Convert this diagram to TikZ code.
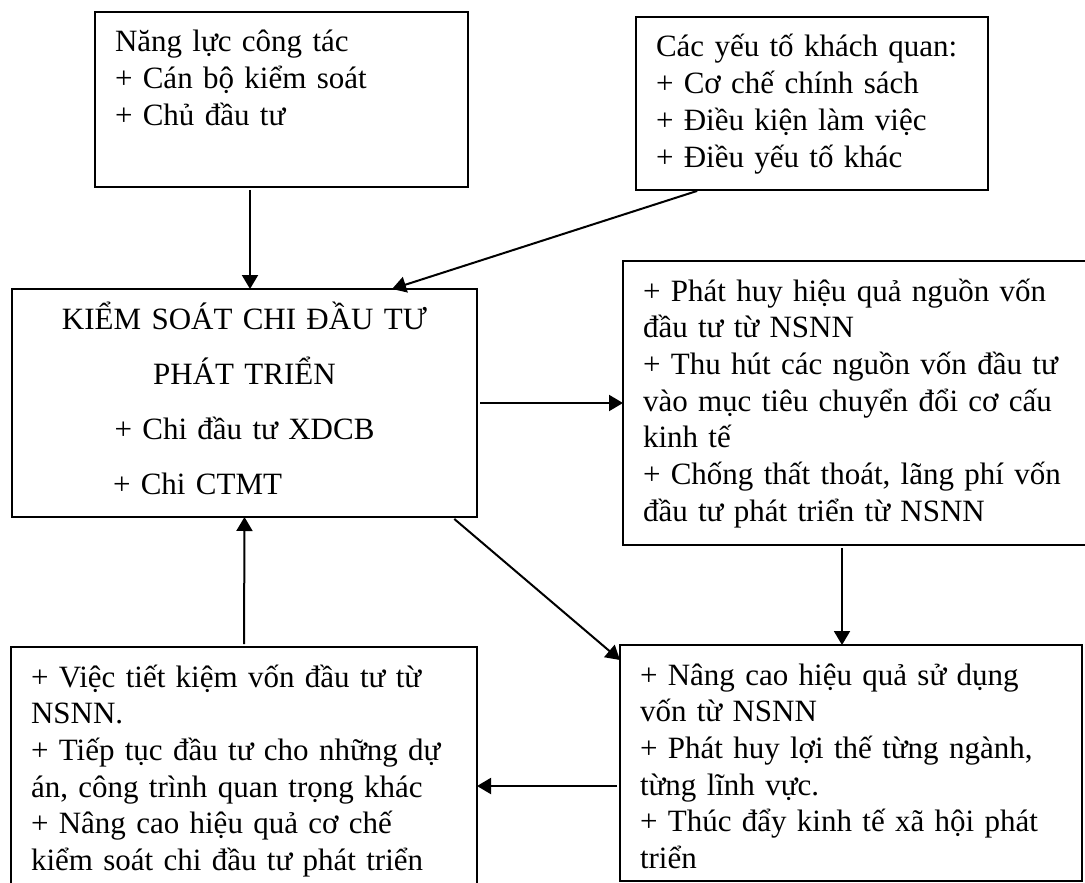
\documentclass[tikz,border=0pt]{standalone}
\usepackage{fontspec}
\setmainfont{Liberation Serif}
\usetikzlibrary{arrows.meta}
\usetikzlibrary{calc}

\begin{document}
\begin{tikzpicture}[x=0.5pt,y=-0.5pt]
	\tikzstyle{box}=[draw, line width=1pt, rectangle, anchor=north west, outer sep=0pt, inner xsep=10pt, inner ysep=0pt, text height=20pt, align=left, font=\fontsize{15.5}{18.35}\selectfont]
	\tikzstyle{arrow}=[line width=1pt, -{Triangle[length=7pt,width=8pt]}, shorten <=1.5pt]
	\useasboundingbox (0,0) rectangle (1085,882);
	\clip (0,0) rectangle (1085,882);

	\node[box, text width=166.5pt, text depth=67.5pt] (nangluc) at (95,12) {Năng lực công tác\\+ Cán bộ kiểm soát\\+ Chủ đầu tư};
	\node[box, text width=156pt, text depth=66.5pt] (yeuto) at (636,17) {Các yếu tố khách quan:\\+ Cơ chế chính sách\\+ Điều kiện làm việc\\+ Điều yếu tố khác};
	\node[box, align=center, text width=212.5pt, text depth=94pt, font=\fontsize{15.5}{27.65}\selectfont] (kiemsoat) at (12,289) {KIỂM SOÁT CHI ĐẦU TƯ\\PHÁT TRIỂN\\+ Chi đầu tư XDCB\\\makebox[\linewidth][l]{\hspace*{40.5pt}+ Chi CTMT}};
	\node[box, text width=218.5pt, text depth=122pt] (phathuy) at (623,261) {+ Phát huy hiệu quả nguồn vốn\\đầu tư từ NSNN\\+ Thu hút các nguồn vốn đầu tư\\vào mục tiêu chuyển đổi cơ cấu\\kinh tế\\+ Chống thất thoát, lãng phí vốn\\đầu tư phát triển từ NSNN};
	\node[box, text width=211pt, text depth=98pt] (ketqua) at (620,645) {+ Nâng cao hiệu quả sử dụng\\vốn từ NSNN\\+ Phát huy lợi thế từng ngành,\\từng lĩnh vực.\\+ Thúc đẩy kinh tế xã hội phát\\triển};
	\node[box, text width=213pt, text depth=125pt] (tietkiem) at (11,647) {+ Việc tiết kiệm vốn đầu tư từ\\NSNN.\\+ Tiếp tục đầu tư cho những dự\\án, công trình quan trọng khác\\+ Nâng cao hiệu quả cơ chế\\kiểm soát chi đầu tư phát triển};

	% columns and rows of the straight connectors
	\coordinate (c1) at (250,0);
	\coordinate (c2) at (842,0);
	\coordinate (r1) at (0,786);

	\draw[arrow] (nangluc.south -| c1) -- (kiemsoat.north -| c1);
	\draw[arrow] ($(yeuto.south west)+(64,0)$) -- ($(kiemsoat.north west)+(380,0)$);
	\draw[arrow] (kiemsoat.east) -- (phathuy.west);
	\draw[arrow] (phathuy.south -| c2) -- (ketqua.north -| c2);
	\draw[arrow] ($(kiemsoat.south east)+(-25,0)$) -- ($(ketqua.north west)+(0,15)$);
	\draw[arrow] (ketqua.west |- r1) -- (tietkiem.east |- r1);
	\draw[arrow] (tietkiem.north) -- (kiemsoat.south);
\end{tikzpicture}
\end{document}
